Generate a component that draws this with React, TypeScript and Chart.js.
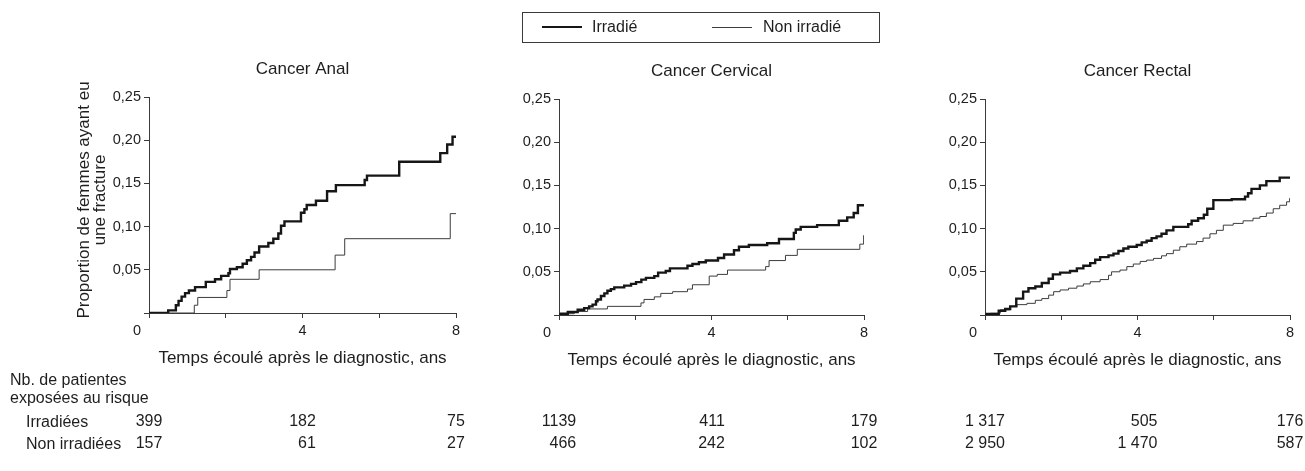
import React, { useEffect, useRef } from "react";
import { Chart, registerables } from "chart.js";

Chart.register(...registerables);

const FONT = '"Liberation Sans", Arial, Helvetica, sans-serif';
const TEXT = "#1e1e1e";
const AXIS = "#3a3a3a";
const THICK = "#161616";
const THIN = "#3c3c3c";
const PAGE_H = 471;

// ---- axes ----
const xTickValues = [0, 2, 4, 6, 8];
const xLabelValues = [0, 4, 8];
const xLabelTexts = ["0", "4", "8"];
const yTickValues = [0, 0.05, 0.1, 0.15, 0.2, 0.25];
const X_TITLE = "Temps écoulé après le diagnostic, ans";
const Y_TITLE = ["Proportion de femmes ayant eu", "une fracture"];
const legendLabels = ["Irradié", "Non irradié"];

// ---- Cancer Anal ----
const analIrrT = [0, 0.5, 0.7, 0.77, 0.85, 0.94, 1.04, 1.2, 1.48, 1.72, 1.88, 2.07, 2.11, 2.29, 2.44, 2.55, 2.66, 2.75, 2.87, 3.11, 3.24, 3.37, 3.44, 3.53, 3.96, 4.05, 4.11, 4.35, 4.64, 4.87, 5.62, 5.68, 6.52, 7.59, 7.77, 7.91, 8];
const analIrrY = [0, 0.003, 0.009, 0.014, 0.019, 0.023, 0.026, 0.03, 0.036, 0.039, 0.043, 0.046, 0.051, 0.053, 0.057, 0.061, 0.065, 0.07, 0.077, 0.081, 0.086, 0.092, 0.101, 0.106, 0.116, 0.12, 0.125, 0.13, 0.141, 0.148, 0.154, 0.159, 0.175, 0.185, 0.195, 0.204, 0.204];
const analNonT = [0, 1.18, 1.27, 2.03, 2.11, 2.87, 4.85, 5.1, 7.85, 8];
const analNonY = [0, 0.009, 0.018, 0.026, 0.039, 0.05, 0.067, 0.086, 0.115, 0.115];
const analRiskIrr = ["399", "182", "75"];
const analRiskNon = ["157", "61", "27"];

// ---- Cancer Cervical ----
const cervIrrT = [0, 0.05, 0.23, 0.49, 0.66, 0.79, 0.88, 0.97, 1.01, 1.1, 1.19, 1.27, 1.36, 1.45, 1.71, 1.89, 2.02, 2.16, 2.28, 2.5, 2.6, 2.8, 2.91, 3.37, 3.5, 3.67, 3.85, 4.17, 4.33, 4.59, 4.72, 4.98, 5.46, 5.77, 6.16, 6.21, 6.34, 6.77, 7.34, 7.56, 7.73, 7.84, 8];
const cervIrrY = [0, 0.0015, 0.0035, 0.006, 0.008, 0.01, 0.012, 0.016, 0.018, 0.022, 0.025, 0.028, 0.03, 0.032, 0.034, 0.036, 0.038, 0.041, 0.043, 0.045, 0.049, 0.051, 0.054, 0.057, 0.059, 0.061, 0.063, 0.066, 0.07, 0.075, 0.079, 0.081, 0.083, 0.088, 0.095, 0.099, 0.102, 0.104, 0.109, 0.113, 0.118, 0.127, 0.127];
const cervNonT = [0, 0.14, 0.4, 0.75, 1.27, 2.15, 2.23, 2.5, 2.67, 2.98, 3.37, 3.5, 3.94, 4.15, 4.42, 5.42, 5.51, 5.94, 6.25, 7.89, 7.99, 8];
const cervNonY = [0, 0.0015, 0.004, 0.007, 0.01, 0.014, 0.018, 0.021, 0.025, 0.027, 0.03, 0.035, 0.045, 0.047, 0.052, 0.056, 0.063, 0.069, 0.076, 0.082, 0.092, 0.092];
const cervRiskIrr = ["1139", "411", "179"];
const cervRiskNon = ["466", "242", "102"];

// ---- Cancer Rectal ----
const rectIrrT = [0, 0.05, 0.36, 0.53, 0.66, 0.82, 1.0, 1.14, 1.32, 1.49, 1.67, 1.78, 1.97, 2.23, 2.41, 2.58, 2.76, 2.89, 3.02, 3.24, 3.37, 3.5, 3.63, 3.76, 3.98, 4.11, 4.24, 4.37, 4.5, 4.63, 4.76, 4.94, 5.33, 5.42, 5.59, 5.74, 5.83, 5.99, 6.47, 6.82, 6.9, 6.99, 7.21, 7.38, 7.73, 8];
const rectIrrY = [0, 0.0012, 0.005, 0.007, 0.01, 0.019, 0.027, 0.031, 0.033, 0.037, 0.042, 0.047, 0.049, 0.051, 0.054, 0.057, 0.06, 0.064, 0.067, 0.069, 0.071, 0.074, 0.077, 0.079, 0.081, 0.084, 0.086, 0.089, 0.091, 0.094, 0.098, 0.102, 0.105, 0.109, 0.112, 0.116, 0.123, 0.133, 0.134, 0.137, 0.141, 0.146, 0.15, 0.155, 0.159, 0.159];
const rectNonT = [0, 0.14, 0.4, 0.66, 0.84, 1.1, 1.32, 1.49, 1.67, 1.8, 1.97, 2.19, 2.41, 2.58, 2.76, 3.02, 3.24, 3.32, 3.54, 3.72, 3.89, 4.07, 4.24, 4.42, 4.63, 4.76, 4.94, 5.11, 5.29, 5.55, 5.72, 5.9, 6.07, 6.25, 6.51, 6.77, 7.03, 7.21, 7.38, 7.56, 7.73, 7.91, 7.99, 8];
const rectNonY = [0, 0.002, 0.006, 0.01, 0.012, 0.0135, 0.017, 0.019, 0.023, 0.027, 0.029, 0.031, 0.0335, 0.036, 0.0385, 0.041, 0.046, 0.05, 0.052, 0.056, 0.059, 0.062, 0.0635, 0.0655, 0.0685, 0.071, 0.075, 0.079, 0.082, 0.085, 0.089, 0.094, 0.098, 0.104, 0.106, 0.109, 0.112, 0.114, 0.118, 0.123, 0.127, 0.131, 0.135, 0.135];
const rectRiskIrr = ["1 317", "505", "176"];
const rectRiskNon = ["2 950", "1 470", "587"];

const riskTimes = [0, 4, 8];
const riskRowLabels = ["Irradiées", "Non irradiées"];

type PanelDef = {
  title: string;
  irrT: number[];
  irrY: number[];
  nonT: number[];
  nonY: number[];
  riskIrr: string[];
  riskNon: string[];
  canvasLeft: number;
  canvasRight: number;
  plotLeft: number;
  plotRight: number;
  plotTop: number;
  plotBottom: number;
  yTitle: boolean;
};

const panels: PanelDef[] = [
  { title: "Cancer Anal", irrT: analIrrT, irrY: analIrrY, nonT: analNonT, nonY: analNonY, riskIrr: analRiskIrr, riskNon: analRiskNon, canvasLeft: 0, canvasRight: 475, plotLeft: 149, plotRight: 456, plotTop: 97, plotBottom: 313, yTitle: true },
  { title: "Cancer Cervical", irrT: cervIrrT, irrY: cervIrrY, nonT: cervNonT, nonY: cervNonY, riskIrr: cervRiskIrr, riskNon: cervRiskNon, canvasLeft: 475, canvasRight: 905, plotLeft: 559, plotRight: 864, plotTop: 99, plotBottom: 315, yTitle: false },
  { title: "Cancer Rectal", irrT: rectIrrT, irrY: rectIrrY, nonT: rectNonT, nonY: rectNonY, riskIrr: rectRiskIrr, riskNon: rectRiskNon, canvasLeft: 905, canvasRight: 1305, plotLeft: 985, plotRight: 1290, plotTop: 99, plotBottom: 315, yTitle: false },
];

const RISK_ROW_Y = [422, 443.5];

function toPoints(t: number[], y: number[]) {
  return t.map((v, i) => ({ x: v, y: y[i] }));
}

function Panel({ p }: { p: PanelDef }) {
  const ref = useRef<HTMLCanvasElement>(null);
  const w = p.canvasRight - p.canvasLeft;

  useEffect(() => {
    const canvas = ref.current;
    if (!canvas) return;

    const textPlugin = {
      id: "panelText",
      afterDraw(chart: any) {
        const ctx = chart.ctx as CanvasRenderingContext2D;
        const xs = chart.scales.x;
        const area = chart.chartArea;
        const cx = (area.left + area.right) / 2;
        ctx.save();
        ctx.fillStyle = TEXT;
        ctx.textBaseline = "middle";
        ctx.textAlign = "center";
        ctx.font = `17px ${FONT}`;
        ctx.fillText(p.title, cx, area.top - 28);
        ctx.fillText(X_TITLE, cx, area.bottom + 45);

        ctx.font = `14.5px ${FONT}`;
        xLabelValues.forEach((v, i) => {
          const x = xs.getPixelForValue(v) + (v === 0 ? -12 : 0);
          ctx.fillText(xLabelTexts[i], x, area.bottom + 18);
        });

        ctx.font = `16px ${FONT}`;
        ctx.textAlign = "right";
        riskTimes.forEach((t, i) => {
          const a = p.riskIrr[i];
          const b = p.riskNon[i];
          const wMax = Math.max(ctx.measureText(a).width, ctx.measureText(b).width);
          const right = xs.getPixelForValue(t) + wMax / 2;
          ctx.fillText(a, right, RISK_ROW_Y[0]);
          ctx.fillText(b, right, RISK_ROW_Y[1]);
        });

        if (p.yTitle) {
          const yc = 200;
          ctx.font = `17px ${FONT}`;
          ctx.textAlign = "center";
          ctx.textBaseline = "alphabetic";
          const xs0 = [89, 105];
          Y_TITLE.forEach((line, i) => {
            ctx.save();
            ctx.translate(xs0[i], yc);
            ctx.rotate(-Math.PI / 2);
            ctx.fillText(line, 0, 0);
            ctx.restore();
          });
        }
        ctx.restore();
      },
    };

    const chart = new Chart(canvas, {
      type: "line",
      data: {
        datasets: [
          {
            label: legendLabels[0],
            data: toPoints(p.irrT, p.irrY),
            stepped: "before",
            borderColor: THICK,
            borderWidth: 2.4,
            pointRadius: 0,
            fill: false,
          },
          {
            label: legendLabels[1],
            data: toPoints(p.nonT, p.nonY),
            stepped: "before",
            borderColor: THIN,
            borderWidth: 1,
            pointRadius: 0,
            fill: false,
          },
        ],
      },
      options: {
        responsive: false,
        animation: false,
        events: [],
        layout: {
          padding: {
            left: 0,
            top: p.plotTop,
            right: w - (p.plotRight - p.canvasLeft),
            bottom: 0,
          },
        },
        plugins: {
          legend: { display: false },
          tooltip: { enabled: false },
          title: { display: false },
        },
        scales: {
          x: {
            type: "linear",
            min: 0,
            max: 8,
            afterBuildTicks: (s: any) => {
              s.ticks = xTickValues.map((v) => ({ value: v }));
            },
            ticks: { display: false },
            grid: { drawOnChartArea: false, drawTicks: true, tickLength: 5, color: AXIS, lineWidth: 1 },
            border: { display: true, color: AXIS, width: 1 },
            afterFit: (s: any) => {
              s.height = PAGE_H - p.plotBottom;
            },
          },
          y: {
            type: "linear",
            min: 0,
            max: 0.25,
            afterBuildTicks: (s: any) => {
              s.ticks = yTickValues.map((v) => ({ value: v }));
            },
            ticks: {
              color: TEXT,
              padding: 3,
              font: { family: FONT, size: 14.5 },
              callback: (v: any) => (Number(v) === 0 ? "" : Number(v).toFixed(2).replace(".", ",")),
            },
            grid: { drawOnChartArea: false, drawTicks: true, tickLength: 5, color: AXIS, lineWidth: 1 },
            border: { display: true, color: AXIS, width: 1 },
            afterFit: (s: any) => {
              s.width = p.plotLeft - p.canvasLeft;
            },
          },
        },
      } as any,
      plugins: [textPlugin],
    });
    return () => chart.destroy();
  }, []);

  return (
    <canvas
      ref={ref}
      width={w}
      height={PAGE_H}
      style={{ position: "absolute", left: p.canvasLeft, top: 0, width: w, height: PAGE_H }}
    />
  );
}

export default function App() {
  const txt: React.CSSProperties = {
    position: "absolute",
    fontFamily: FONT,
    fontSize: 16,
    lineHeight: "18px",
    color: TEXT,
    whiteSpace: "nowrap",
  };
  return (
    <div style={{ position: "absolute", left: 0, top: 0, width: 1305, height: PAGE_H, background: "#fff", overflow: "hidden" }}>
      {panels.map((p, i) => (
        <Panel key={i} p={p} />
      ))}
      <div
        style={{
          position: "absolute",
          left: 522,
          top: 12,
          width: 358,
          height: 31,
          border: `1px solid ${AXIS}`,
          boxSizing: "border-box",
        }}
      >
        <div style={{ position: "absolute", left: 19, top: 12.5, width: 40, height: 2.5, background: THICK }} />
        <div style={{ ...txt, left: 69, top: 5 }}>{legendLabels[0]}</div>
        <div style={{ position: "absolute", left: 189, top: 13.5, width: 40, height: 1, background: THIN }} />
        <div style={{ ...txt, left: 240, top: 5 }}>{legendLabels[1]}</div>
      </div>
      <div style={{ ...txt, left: 10, top: 371 }}>Nb. de patientes</div>
      <div style={{ ...txt, left: 10, top: 389 }}>exposées au risque</div>
      <div style={{ ...txt, left: 26, top: RISK_ROW_Y[0] - 9 }}>{riskRowLabels[0]}</div>
      <div style={{ ...txt, left: 26, top: RISK_ROW_Y[1] - 9 }}>{riskRowLabels[1]}</div>
    </div>
  );
}
